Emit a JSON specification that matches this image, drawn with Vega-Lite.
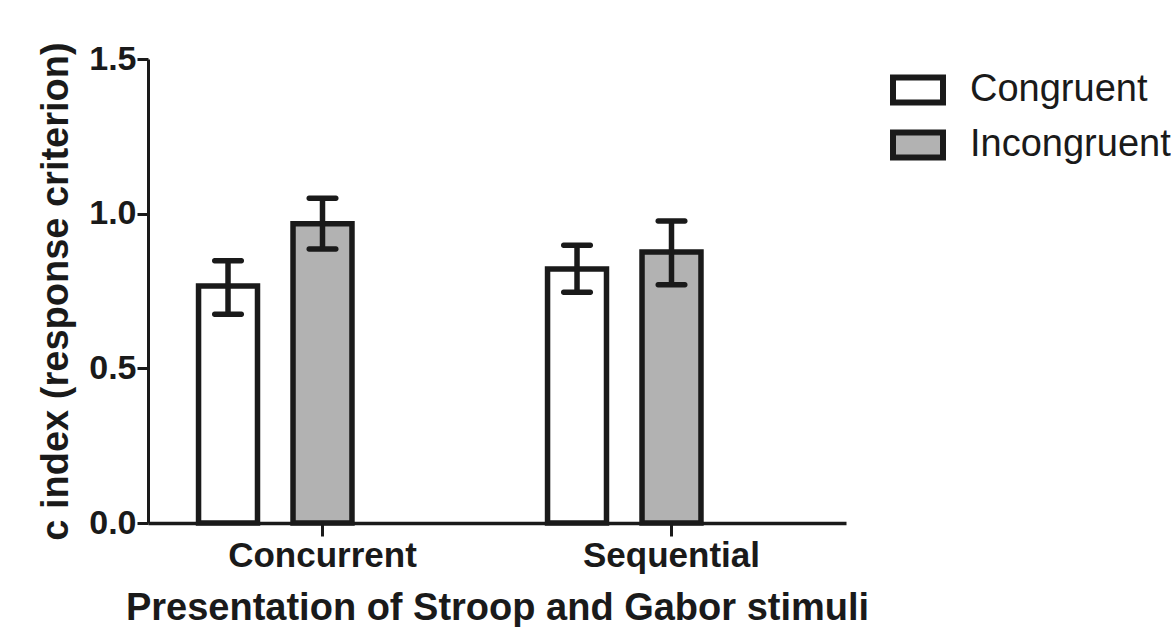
{
  "$schema": "https://vega.github.io/schema/vega-lite/v6.json",
  "width": 698,
  "height": 464,
  "autosize": {"type": "none"},
  "padding": {"left": 148, "top": 59, "right": 325, "bottom": 104},
  "background": "white",
  "config": {
    "view": {"stroke": null},
    "font": "Liberation Sans",
    "axis": {"grid": false, "domainColor": "#1a1a1a", "tickColor": "#1a1a1a", "labelColor": "#1a1a1a", "titleColor": "#1a1a1a", "labelFont": "Liberation Sans", "titleFont": "Liberation Sans"}
  },
  "data": {
    "values": [
      {"presentation": "Concurrent", "condition": "Congruent", "c": 0.766, "lo": 0.675, "hi": 0.848},
      {"presentation": "Concurrent", "condition": "Incongruent", "c": 0.967, "lo": 0.886, "hi": 1.05},
      {"presentation": "Sequential", "condition": "Congruent", "c": 0.821, "lo": 0.746, "hi": 0.898},
      {"presentation": "Sequential", "condition": "Incongruent", "c": 0.876, "lo": 0.77, "hi": 0.976}
    ]
  },
  "encoding": {
    "x": {
      "field": "presentation", "type": "nominal",
      "scale": {"paddingInner": 0, "paddingOuter": 0},
      "axis": {
        "title": "Presentation of Stroop and Gabor stimuli",
        "labelAngle": 0, "labelFontSize": 35, "labelFontWeight": "bold", "labelPadding": 2, "labelLimit": 400,
        "titleFontSize": 38, "titleFontWeight": "bold", "titlePadding": 16,
        "domainWidth": 3.5, "tickWidth": 3, "tickSize": 13
      }
    },
    "xOffset": {
      "field": "condition", "type": "nominal",
      "scale": {"domain": ["Congruent", "Incongruent", "pad"], "paddingInner": 0.376, "paddingOuter": 0.535}
    }
  },
  "layer": [
    {
      "mark": {"type": "bar", "stroke": "#1a1a1a", "strokeWidth": 5.5, "strokeJoin": "miter"},
      "encoding": {
        "y": {
          "field": "c", "type": "quantitative",
          "scale": {"domain": [0, 1.5], "nice": false},
          "axis": {
            "title": "c index (response criterion)",
            "values": [0, 0.5, 1, 1.5], "format": ".1f",
            "labelFontSize": 34, "labelFontWeight": "bold", "labelPadding": 1,
            "titleFontSize": 38, "titleFontWeight": "bold", "titlePadding": 13,
            "domainWidth": 3, "tickWidth": 3, "tickSize": 11
          }
        },
        "fill": {
          "field": "condition", "type": "nominal",
          "scale": {"domain": ["Congruent", "Incongruent"], "range": ["#ffffff", "#b2b2b2"]},
          "legend": {
            "title": null, "orient": "none", "legendX": 742, "legendY": 3, "padding": 0,
            "symbolType": "M-1,-0.5H1V0.5H-1Z", "symbolSize": 2500,
            "symbolStrokeColor": "#1a1a1a", "symbolStrokeWidth": 6,
            "labelFontSize": 38, "labelFont": "Liberation Sans", "labelColor": "#1a1a1a",
            "labelOffset": 24, "rowPadding": 2, "labelLimit": 400
          }
        }
      }
    },
    {
      "mark": {"type": "rule", "stroke": "#1a1a1a", "strokeWidth": 5.5},
      "encoding": {
        "y": {"field": "lo", "type": "quantitative"},
        "y2": {"field": "hi"}
      }
    },
    {
      "mark": {"type": "tick", "color": "#1a1a1a", "size": 32, "thickness": 5.5, "cornerRadius": 2.5, "opacity": 1},
      "encoding": {
        "y": {"field": "lo", "type": "quantitative"}
      }
    },
    {
      "mark": {"type": "tick", "color": "#1a1a1a", "size": 32, "thickness": 5.5, "cornerRadius": 2.5, "opacity": 1},
      "encoding": {
        "y": {"field": "hi", "type": "quantitative"}
      }
    }
  ]
}
